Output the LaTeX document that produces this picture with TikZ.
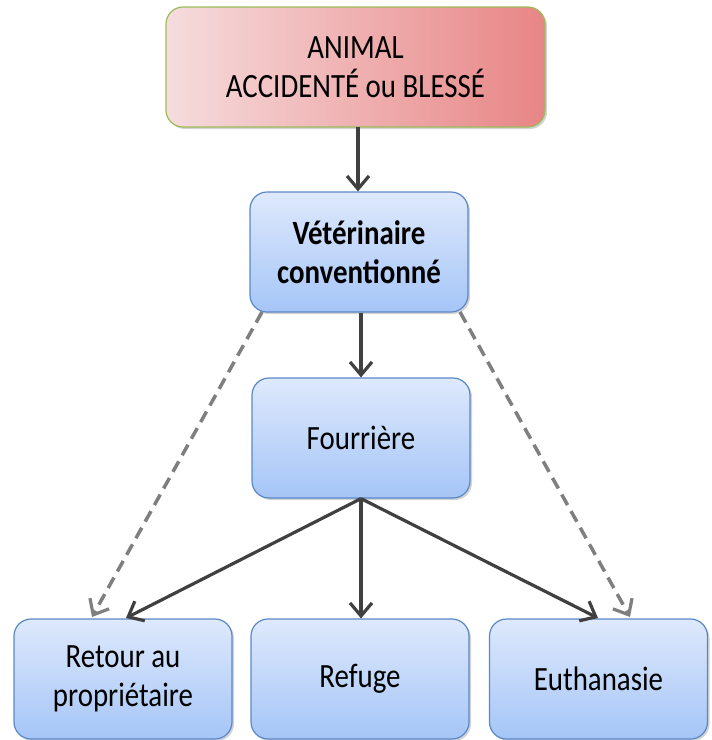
\documentclass[tikz,border=0pt]{standalone}
\usepackage{fontspec}
\setmainfont{Carlito}[FakeStretch=0.85]
\usetikzlibrary{arrows.meta,shadows}
\definecolor{pinkL}{HTML}{F6DCDD}
\definecolor{pinkR}{HTML}{E88585}
\definecolor{greenB}{HTML}{9BBB59}
\definecolor{blueT}{HTML}{DEE9FC}
\definecolor{blueB}{HTML}{A5C5F7}
\definecolor{blueE}{HTML}{5A88C6}
\definecolor{arrowD}{HTML}{404040}
\definecolor{arrowG}{HTML}{7F7F7F}
\tikzset{
  box/.style={rounded corners=17pt, line width=1.2pt, align=center, inner sep=0pt,
    font=\fontsize{34}{39}\selectfont, text=black,
    drop shadow={opacity=0.35, shadow xshift=2pt, shadow yshift=-2pt}},
  bluebox/.style={box, draw=blueE, top color=blueT, bottom color=blueB,
    minimum width=218pt, minimum height=120pt},
  redbox/.style={box, draw=greenB, left color=pinkL, right color=pinkR,
    minimum width=379pt, minimum height=120pt},
  solidarrow/.style={draw=arrowD, line width=3.2pt, -{Straight Barb[length=13pt,width=22pt,line width=3.2pt]}},
  dasharrow/.style={draw=arrowG, line width=3.5pt, dash pattern=on 12pt off 7pt,
    -{Straight Barb[length=13pt,width=22pt,line width=3.2pt]}},
}
\begin{document}
\begin{tikzpicture}[x=1pt,y=-1pt]
\useasboundingbox (0,0) rectangle (712,740);
\node[redbox] (animal) at (355.5,67) {ANIMAL\\ACCIDENTÉ ou BLESSÉ};
\node[bluebox, font=\fontsize{34}{39}\selectfont\bfseries] (vet) at (359,252) {Vétérinaire\\conventionné};
\node[bluebox] (four) at (361,438) {Fourrière};
\node[bluebox] (retour) at (123,679) {Retour au\\propriétaire};
\node[bluebox] (refuge) at (360,679) {Refuge};
\node[bluebox] (euth) at (598.5,679) {Euthanasie};
\coordinate (vetL) at (262,312);
\coordinate (vetR) at (460,312);
\coordinate (retL) at (92,617);
\coordinate (euR) at (630,617);
\coordinate (retA) at (126,618);
\coordinate (euA) at (598,618);
\draw[solidarrow] (358,127) -- (vet.north -| 358,0);
\draw[solidarrow] (vet.south -| four.south) -- (four.north);
\draw[solidarrow] (four.south) -- (retA);
\draw[solidarrow] (four.south) -- (four.south |- refuge.north);
\draw[solidarrow] (four.south) -- (euA);
\draw[dasharrow] (vetL) -- (retL);
\draw[dasharrow] (vetR) -- (euR);
\end{tikzpicture}
\end{document}
